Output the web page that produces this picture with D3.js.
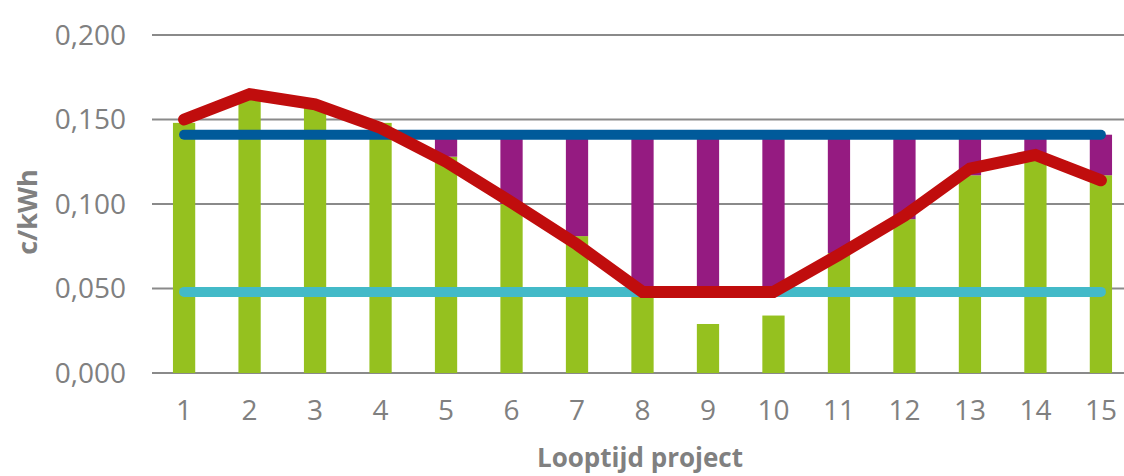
<!DOCTYPE html>
<html>
<head>
<meta charset="utf-8">
<script src="https://cdn.jsdelivr.net/npm/d3@7/dist/d3.min.js"></script>
<style>
  html, body { margin: 0; padding: 0; background: #ffffff; }
  svg { display: block; }
</style>
</head>
<body>
<svg id="chart" width="1124" height="476"></svg>
<script>
// ---- data ----
const categories = [1, 2, 3, 4, 5, 6, 7, 8, 9, 10, 11, 12, 13, 14, 15];
// green bars (c/kWh)
const greenValues = [0.148, 0.163, 0.157, 0.148, 0.128, 0.100, 0.081, 0.051, 0.029, 0.034, 0.071, 0.091, 0.117, 0.129, 0.117];
// purple floating bars: lower edge and upper edge (null = no bar)
const purpleLow  = [null, null, null, null, 0.128, 0.100, 0.081, 0.051, 0.051, 0.051, 0.071, 0.091, 0.117, 0.129, 0.117];
const purpleHigh = [null, null, null, null, 0.141, 0.141, 0.141, 0.141, 0.141, 0.141, 0.141, 0.141, 0.141, 0.141, 0.141];
// horizontal reference lines
const blueValues = [0.141, 0.141, 0.141, 0.141, 0.141, 0.141, 0.141, 0.141, 0.141, 0.141, 0.141, 0.141, 0.141, 0.141, 0.141];
const cyanValues = [0.048, 0.048, 0.048, 0.048, 0.048, 0.048, 0.048, 0.048, 0.048, 0.048, 0.048, 0.048, 0.048, 0.048, 0.048];
// red line
const redValues = [0.150, 0.165, 0.159, 0.145, 0.125, 0.101, 0.076, 0.048, 0.048, 0.048, 0.070, 0.093, 0.121, 0.129, 0.114];
const yTicks = [0, 0.05, 0.10, 0.15, 0.20];

// ---- setup ----
const svg = d3.select("#chart");
const fontFam = "'Open Sans', 'Noto Sans', sans-serif";
const gray = "#808080";

const x = d3.scaleBand().domain(categories).range([152, 1133]).paddingInner(0.66).paddingOuter(0.32);
const y = d3.scaleLinear().domain([0, 0.2]).range([373, 35]);
const cx = c => x(c) + x.bandwidth() / 2;

const nl = d3.formatLocale({decimal: ",", thousands: ".", grouping: [3], currency: ["€", ""]});
const fmt = nl.format(".3f");

// gridlines
svg.append("g").selectAll("line").data(yTicks).join("line")
  .attr("x1", 152).attr("x2", 1124)
  .attr("y1", d => y(d)).attr("y2", d => y(d))
  .attr("stroke", "#8a8a8a").attr("stroke-width", 2);

// y tick labels
svg.append("g").selectAll("text").data(yTicks).join("text")
  .attr("x", 126).attr("y", d => y(d))
  .attr("dy", "0.35em")
  .attr("text-anchor", "end")
  .attr("font-family", fontFam).attr("font-size", 28)
  .attr("fill", gray)
  .text(d => fmt(d));

// x tick labels
svg.append("g").selectAll("text").data(categories).join("text")
  .attr("x", d => cx(d)).attr("y", 420)
  .attr("text-anchor", "middle")
  .attr("font-family", fontFam).attr("font-size", 28)
  .attr("fill", gray)
  .text(d => d);

// green bars
svg.append("g").selectAll("rect").data(categories).join("rect")
  .attr("x", d => x(d)).attr("width", x.bandwidth())
  .attr("y", (d, i) => y(greenValues[i]))
  .attr("height", (d, i) => y(0) - y(greenValues[i]))
  .attr("fill", "#95c11f");

// purple bars
svg.append("g").selectAll("rect").data(categories.filter((d, i) => purpleLow[i] !== null)).join("rect")
  .attr("x", d => x(d)).attr("width", x.bandwidth())
  .attr("y", d => y(purpleHigh[d - 1]))
  .attr("height", d => y(purpleLow[d - 1]) - y(purpleHigh[d - 1]))
  .attr("fill", "#951b81");

const lineGen = vals => d3.line().x(d => cx(d)).y((d, i) => y(vals[i]))(categories);

// blue line
svg.append("path").attr("d", lineGen(blueValues))
  .attr("fill", "none").attr("stroke", "#005a9a").attr("stroke-width", 10)
  .attr("stroke-linecap", "round");

// cyan line
svg.append("path").attr("d", lineGen(cyanValues))
  .attr("fill", "none").attr("stroke", "#43bac8").attr("stroke-width", 10)
  .attr("stroke-linecap", "round");

// red line
svg.append("path").attr("d", lineGen(redValues))
  .attr("fill", "none").attr("stroke", "#c00d0d").attr("stroke-width", 12)
  .attr("stroke-linecap", "round").attr("stroke-linejoin", "miter");

// axis titles
svg.append("text")
  .attr("x", 640).attr("y", 467)
  .attr("text-anchor", "middle")
  .attr("font-family", fontFam).attr("font-size", 26).attr("font-weight", "bold")
  .attr("fill", gray)
  .text("Looptijd project");

svg.append("text")
  .attr("transform", "translate(37,212) rotate(-90)")
  .attr("text-anchor", "middle")
  .attr("font-family", fontFam).attr("font-size", 27).attr("font-weight", "bold")
  .attr("fill", gray)
  .text("c/kWh");
</script>
</body>
</html>
